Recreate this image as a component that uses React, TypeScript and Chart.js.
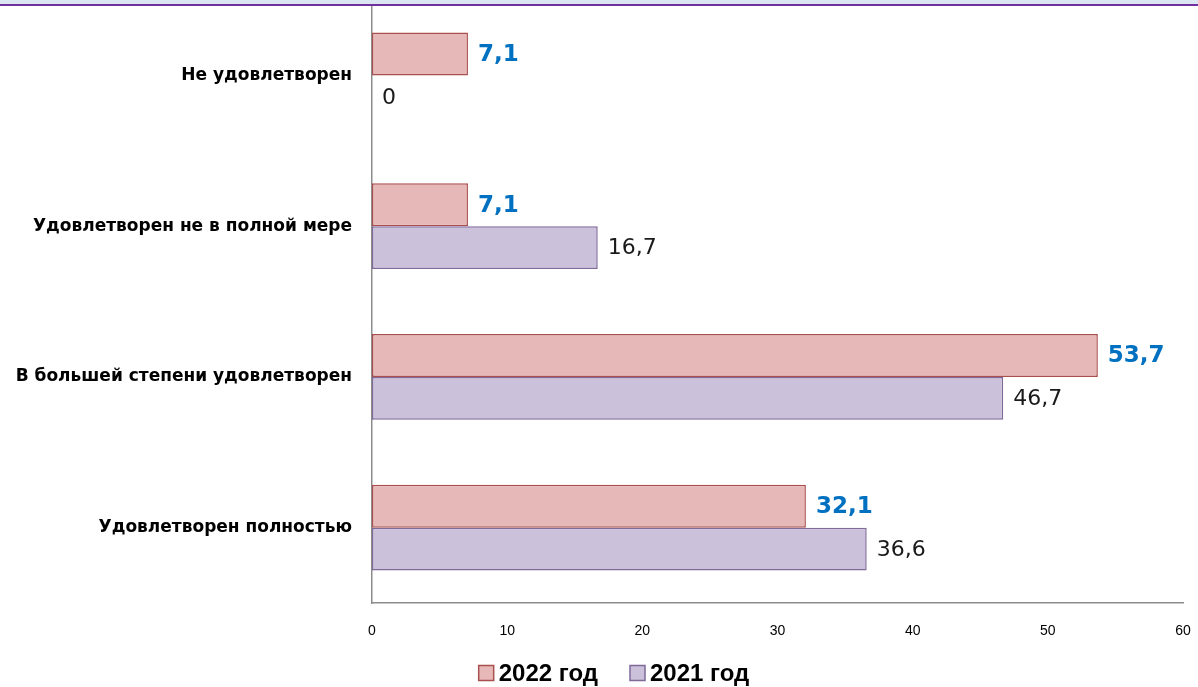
import React, { useEffect, useRef } from "react";
import { Chart, registerables } from "chart.js";

Chart.register(...registerables);

const categories = [
  "Не удовлетворен",
  "Удовлетворен не в полной мере",
  "В большей степени удовлетворен",
  "Удовлетворен полностью",
];
const seriesNames = ["2022 год", "2021 год"];
const values2022 = [7.1, 7.1, 53.7, 32.1];
const values2021 = [0, 16.7, 46.7, 36.6];
const xTicks = [0, 10, 20, 30, 40, 50, 60];

const W = 1198;
const H = 687;

const fmt = (v: number) => (Number.isInteger(v) ? String(v) : v.toFixed(1).replace(".", ","));

const labelStyles = [
  { color: "#0070C0", font: "bold 23px 'DejaVu Sans'" },
  { color: "#1a1a1a", font: "22px 'DejaVu Sans'" },
];

const dataLabelPlugin = {
  id: "dataLabels",
  afterDatasetsDraw(chart: any) {
    const ctx = chart.ctx;
    chart.data.datasets.forEach((ds: any, di: number) => {
      const meta = chart.getDatasetMeta(di);
      const st = labelStyles[di];
      meta.data.forEach((el: any, i: number) => {
        ctx.save();
        ctx.font = st.font;
        ctx.fillStyle = st.color;
        ctx.textAlign = "left";
        ctx.textBaseline = "middle";
        ctx.fillText(fmt(ds.data[i]), el.x + 10, el.y + 1);
        ctx.restore();
      });
    });
  },
};

const legendPlugin = {
  id: "customLegend",
  afterDraw(chart: any) {
    const ctx = chart.ctx;
    const font = "bold 24px 'Liberation Sans Narrow', 'Liberation Sans'";
    ctx.save();
    ctx.font = font;
    const box = 15;
    const gapBox = 5;
    const gapItem = 32;
    const items = chart.data.datasets.map((ds: any) => ({
      ds,
      w: box + gapBox + ctx.measureText(ds.label).width,
    }));
    const total = items.reduce((s: number, it: any) => s + it.w, 0) + gapItem * (items.length - 1);
    let x = 614 - total / 2;
    const y = 673;
    items.forEach((it: any) => {
      ctx.fillStyle = it.ds.backgroundColor;
      ctx.strokeStyle = it.ds.borderColor;
      ctx.lineWidth = 1.5;
      ctx.fillRect(x, y - box / 2, box, box);
      ctx.strokeRect(x, y - box / 2, box, box);
      ctx.fillStyle = "#000";
      ctx.textAlign = "left";
      ctx.textBaseline = "middle";
      ctx.fillText(it.ds.label, x + box + gapBox, y + 1);
      x += it.w + gapItem;
    });
    ctx.restore();
  },
};

const zeroPad = (scale: any) => {
  scale.paddingTop = 0;
  scale.paddingBottom = 0;
  scale.paddingLeft = 0;
  scale.paddingRight = 0;
};

export default function App() {
  const ref = useRef<HTMLCanvasElement | null>(null);

  useEffect(() => {
    if (!ref.current) return;
    const chart = new Chart(ref.current, {
      type: "bar",
      data: {
        labels: categories,
        datasets: [
          {
            label: seriesNames[0],
            data: values2022,
            backgroundColor: "#E6B9B8",
            borderColor: "#A9504E",
            borderWidth: 1.5,
            borderSkipped: false,
            categoryPercentage: 0.57,
            barPercentage: 1,
          },
          {
            label: seriesNames[1],
            data: values2021,
            backgroundColor: "#CCC1DA",
            borderColor: "#7F6A9A",
            borderWidth: 1.5,
            borderSkipped: false,
            categoryPercentage: 0.57,
            barPercentage: 1,
          },
        ],
      },
      options: {
        indexAxis: "y",
        responsive: false,
        animation: false,
        devicePixelRatio: 1,
        layout: { padding: { left: 0, right: 15, top: 0, bottom: 0 } },
        plugins: {
          legend: { display: false },
          tooltip: { enabled: false },
          title: { display: false },
        },
        scales: {
          x: {
            type: "linear",
            min: xTicks[0],
            max: xTicks[xTicks.length - 1],
            afterBuildTicks(scale: any) {
              scale.ticks = xTicks.map((v) => ({ value: v }));
            },
            afterFit(scale: any) {
              scale.height = 84;
              zeroPad(scale);
            },
            grid: { display: false, drawTicks: false },
            border: { display: true, color: "#8C8C8C", width: 1.5 },
            ticks: {
              padding: 20,
              color: "#000",
              font: { family: "'Liberation Sans Narrow', 'Liberation Sans'", size: 14 },
            },
          },
          y: {
            afterFit(scale: any) {
              scale.width = 372;
              zeroPad(scale);
            },
            grid: { display: false, drawTicks: false },
            border: { display: true, color: "#8C8C8C", width: 1.5 },
            ticks: {
              padding: 20,
              color: "#000",
              font: { family: "'DejaVu Sans'", size: 17, weight: "bold" },
            },
          },
        },
      },
      plugins: [dataLabelPlugin, legendPlugin],
    });
    return () => chart.destroy();
  }, []);

  return (
    <div style={{ position: "absolute", left: 0, top: 0, width: W, height: H, background: "#fff" }}>
      <canvas ref={ref} width={W} height={H} style={{ display: "block", width: W, height: H }} />
      <div
        style={{
          position: "absolute",
          left: 0,
          top: 0,
          width: W,
          height: 4,
          background: "#DCE6F2",
          borderBottom: "2px solid #7030A0",
        }}
      />
    </div>
  );
}
